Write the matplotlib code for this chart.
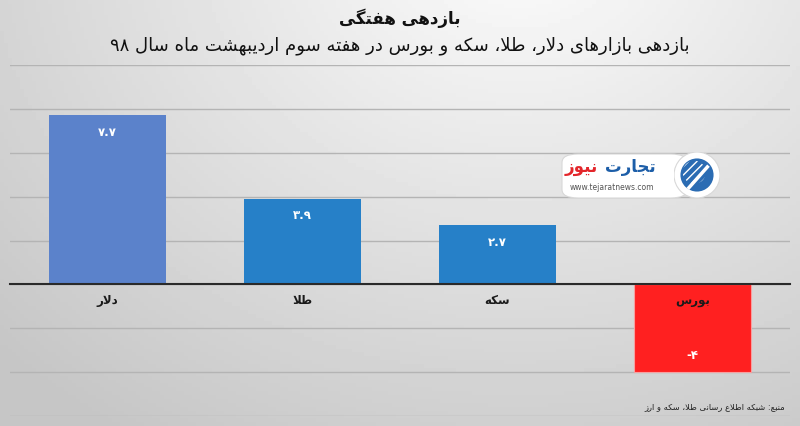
import re
import numpy as np
import matplotlib as mpl

mpl.use('Agg')
import matplotlib.pyplot as plt
from matplotlib.patches import FancyBboxPatch, Circle
from matplotlib.transforms import offset_copy

# data
categories = ['دلار', 'طلا', 'سکه', 'بورس']
values = [7.7, 3.9, 2.7, -4]
value_labels = ['۷.۷', '۳.۹', '۲.۷', '-۴']
bar_colors = ['#5b82cb', '#2680c8', '#2680c8', '#ff2020']
title = 'بازدهی هفتگی'
subtitle = 'بازدهی بازارهای دلار، طلا، سکه و بورس در هفته سوم اردیبهشت ماه سال ۹۸'
source = 'منبع: شبکه اطلاع رسانی طلا، سکه و ارز'

# arabic presentation forms: isolated, final, initial, medial
FORMS = {
    'ا': ('\uFE8D', '\uFE8E', None, None),
    'ب': ('\uFE8F', '\uFE90', '\uFE91', '\uFE92'),
    'ت': ('\uFE95', '\uFE96', '\uFE97', '\uFE98'),
    'ج': ('\uFE9D', '\uFE9E', '\uFE9F', '\uFEA0'),
    'د': ('\uFEA9', '\uFEAA', None, None),
    'ر': ('\uFEAD', '\uFEAE', None, None),
    'ز': ('\uFEAF', '\uFEB0', None, None),
    'س': ('\uFEB1', '\uFEB2', '\uFEB3', '\uFEB4'),
    'ش': ('\uFEB5', '\uFEB6', '\uFEB7', '\uFEB8'),
    'ط': ('\uFEC1', '\uFEC2', '\uFEC3', '\uFEC4'),
    'ع': ('\uFEC9', '\uFECA', '\uFECB', '\uFECC'),
    'ف': ('\uFED1', '\uFED2', '\uFED3', '\uFED4'),
    'ل': ('\uFEDD', '\uFEDE', '\uFEDF', '\uFEE0'),
    'م': ('\uFEE1', '\uFEE2', '\uFEE3', '\uFEE4'),
    'ن': ('\uFEE5', '\uFEE6', '\uFEE7', '\uFEE8'),
    'ه': ('\uFEE9', '\uFEEA', '\uFEEB', '\uFEEC'),
    'و': ('\uFEED', '\uFEEE', None, None),
    'ی': ('\uFBFC', '\uFBFD', '\uFBFE', '\uFBFF'),
    'ک': ('\uFB8E', '\uFB8F', '\uFB90', '\uFB91'),
    'گ': ('\uFB92', '\uFB93', '\uFB94', '\uFB95'),
}


def fa(text):
    # shape letters then put them in visual (left to right) order
    out = []
    i = 0
    n = len(text)
    while i < n:
        c = text[i]
        if c not in FORMS:
            out.append(c)
            i += 1
            continue
        prev = text[i - 1] if i > 0 else None
        joins_prev = prev in FORMS and FORMS[prev][2] is not None
        if c == 'ل' and i + 1 < n and text[i + 1] == 'ا':
            out.append('\uFEFC' if joins_prev else '\uFEFB')
            i += 2
            continue
        nxt = text[i + 1] if i + 1 < n else None
        joins_next = FORMS[c][2] is not None and nxt in FORMS
        iso, fin, ini, med = FORMS[c]
        if joins_prev and joins_next:
            out.append(med)
        elif joins_prev:
            out.append(fin)
        elif joins_next:
            out.append(ini)
        else:
            out.append(iso)
        i += 1
    rev = ''.join(out)[::-1]
    return re.sub(r'[0-9۰-۹]+', lambda m: m.group()[::-1], rev)


plt.rcParams['font.family'] = ['DejaVu Sans']

fig = plt.figure(figsize=(8, 4.26), dpi=100)

# background gradient
bg = fig.add_axes([0, 0, 1, 1], zorder=-2)
gx, gy = np.meshgrid(np.linspace(0, 800, 200), np.linspace(0, 426, 110))
dist = np.hypot((gx - 520) * 0.9, (gy + 60) * 1.1)
shade = np.clip(252 - 50 * dist / 600, 198, 250) / 255.0
bg.imshow(shade, cmap='gray', vmin=0, vmax=1, aspect='auto', extent=[0, 1, 0, 1])
bg.set_axis_off()

ax = fig.add_axes([10 / 800, 1 - 416 / 426, 780 / 800, 351 / 426])
ax.patch.set_alpha(0)
x = np.arange(len(categories))
bars = ax.bar(x, values, width=0.6, color=bar_colors, zorder=3)
bars[3].set_edgecolor('#f7a0a0')
bars[3].set_linewidth(0.8)

ax.set_xlim(-0.5, len(categories) - 0.5)
ax.set_ylim(-6, 10)
ax.set_yticks(np.arange(-6, 11, 2))
ax.yaxis.grid(True, color='#b4b4b4', linewidth=1.0, zorder=0)
ax.tick_params(axis='y', left=False, labelleft=False)
for s in ['left', 'right', 'top']:
    ax.spines[s].set_visible(False)
ax.spines['bottom'].set_position(('data', 0))
ax.spines['bottom'].set_color('#2a2a2a')
ax.spines['bottom'].set_linewidth(1.5)
ax.spines['bottom'].set_zorder(4)
ax.set_xticks(x)
ax.tick_params(axis='x', length=0, labelbottom=False)

# category names just under the zero line, drawn above the bars
below = offset_copy(ax.transData, fig=fig, x=0, y=-16, units='dots')
for xi, name in zip(x, categories):
    ax.text(xi, 0, fa(name), transform=below, ha='center', va='center', fontsize=8.5,
            fontweight='bold', color='#1a1a1a', zorder=6)

ax.bar_label(bars, labels=value_labels, padding=-17, color='white', fontsize=8.5,
             fontweight='bold', zorder=5)

fig.text(0.5, 1 - 18 / 426, fa(title), ha='center', va='center', fontsize=12,
         fontweight='bold', color='#111111')
fig.text(0.5, 1 - 46 / 426, fa(subtitle), ha='center', va='center', fontsize=13,
         color='#111111')
fig.text(785 / 800, 1 - 407 / 426, fa(source), ha='right', va='center', fontsize=6,
         color='#222222')

# logo
box = FancyBboxPatch((562 / 800, 1 - 198 / 426), 125 / 800, 44 / 426,
                     boxstyle='round,pad=0,rounding_size=0.02', transform=fig.transFigure,
                     facecolor='white', edgecolor='#d8d8d8', linewidth=0.8, zorder=6)
fig.patches.append(box)
lx, ly = 697 / 800, 1 - 175 / 426
r = 23 / 800
logo_ax = fig.add_axes([lx - r, ly - 23 / 426, 2 * r, 46 / 426], zorder=7)
logo_ax.set_xlim(-1, 1)
logo_ax.set_ylim(-1, 1)
logo_ax.set_axis_off()
logo_ax.add_patch(Circle((0, 0), 1.0, facecolor='white', edgecolor='#d8d8d8', linewidth=0.8))
logo_ax.add_patch(Circle((0, 0), 0.72, facecolor='#2b6cb3', edgecolor='none'))
logo_ax.add_patch(Circle((-0.12, 0.12), 0.5, facecolor='none', edgecolor='white', hatch='////',
                         linewidth=0))
logo_ax.plot([-0.35, 0.45], [-0.55, 0.35], color='white', linewidth=2.5)
fig.text(656 / 800, 1 - 167 / 426, fa('تجارت'), ha='right', va='center', fontsize=12,
         fontweight='bold', color='#1d5ea8', zorder=8)
fig.text(598 / 800, 1 - 167 / 426, fa('نیوز'), ha='right', va='center', fontsize=12,
         fontweight='bold', color='#e3262b', zorder=8)
fig.text(612 / 800, 1 - 188 / 426, 'www.tejaratnews.com', ha='center', va='center',
         fontsize=5.5, color='#555555', zorder=8)

fig.savefig('out.png', dpi=100)
